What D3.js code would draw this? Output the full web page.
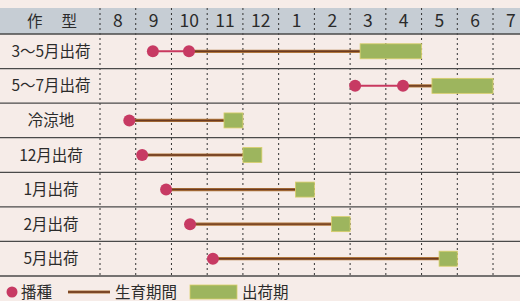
<!DOCTYPE html>
<html>
<head>
<meta charset="utf-8">
<script src="https://cdn.jsdelivr.net/npm/d3@7"></script>
<style>
  body { margin: 0; background: #f6ece8; }
  svg { display: block; }
  text { font-family: "Noto Sans CJK JP", "Noto Sans", sans-serif; fill: #2b2b2b; }
</style>
</head>
<body>
<script>
// 作型ごとの栽培暦 (8月 = 0 として月単位)
var months = ['8', '9', '10', '11', '12', '1', '2', '3', '4', '5', '6', '7'];
var types = ['3〜5月出荷', '5〜7月出荷', '冷涼地', '12月出荷', '1月出荷', '2月出荷', '5月出荷'];
var sowFirst  = [1.48, 7.14, 0.82, 1.18, 1.85, 2.52, 3.16];
var sowLast   = [2.49, 8.48, null, null, null, null, null];
var harvStart = [7.28, 9.29, 3.47, 4.0, 5.47, 6.48, 9.49];
var harvEnd   = [9.0, 11.0, 4.0, 4.53, 6.0, 7.0, 10.0];

var W = 520, H = 301;
var svg = d3.select('body').append('svg').attr('width', W).attr('height', H);

var x = d3.scaleLinear().domain([0, 12]).range([100, 100 + 12 * 35.73]);
var y = d3.scaleBand().domain(types).range([34, 276]);
var headTop = 8;

// header
svg.append('rect').attr('x', 0).attr('y', headTop).attr('width', W).attr('height', 34 - headTop).attr('fill', '#c6cdd4');
svg.append('text').attr('x', 52).attr('y', 21).attr('dy', '0.36em').attr('text-anchor', 'middle')
  .attr('font-size', 15.5).text('作　 型');
svg.selectAll('.mon').data(months).enter().append('text')
  .attr('x', function(d, i) { return x(i + 0.5); })
  .attr('y', 21).attr('dy', '0.36em').attr('text-anchor', 'middle')
  .attr('font-family', 'DejaVu Sans, sans-serif').attr('font-size', 17.5).attr('fill', '#333')
  .text(function(d) { return d; });

// grid
svg.selectAll('.vl').data(d3.range(0, 12)).enter().append('line')
  .attr('x1', function(d) { return x(d); }).attr('x2', function(d) { return x(d); })
  .attr('y1', headTop).attr('y2', 278)
  .attr('stroke', '#333').attr('stroke-width', 1).attr('stroke-dasharray', '2,3');
var hl = [34].concat(types.map(function(t) { return y(t) + y.bandwidth(); }));
svg.selectAll('.hl').data(hl).enter().append('line')
  .attr('x1', 0).attr('x2', W)
  .attr('y1', function(d) { return d; }).attr('y2', function(d) { return d; })
  .attr('stroke', '#4a4a4a').attr('stroke-width', 1.3);

// rows
types.forEach(function(t, i) {
  var cy = y(t) + y.bandwidth() / 2;
  svg.append('text').attr('x', 51).attr('y', cy).attr('dy', '0.36em').attr('text-anchor', 'middle')
    .attr('font-size', 15.5).text(t);

  var growFrom = sowLast[i] != null ? sowLast[i] : sowFirst[i];
  svg.append('line').attr('x1', x(growFrom)).attr('x2', x(harvStart[i]))
    .attr('y1', cy).attr('y2', cy).attr('stroke', '#b0763a').attr('stroke-width', 3.2);
  svg.append('line').attr('x1', x(growFrom)).attr('x2', x(harvStart[i]))
    .attr('y1', cy).attr('y2', cy).attr('stroke', '#6b3a22').attr('stroke-width', 1.4);

  if (sowLast[i] != null) {
    svg.append('line').attr('x1', x(sowFirst[i])).attr('x2', x(sowLast[i]))
      .attr('y1', cy).attr('y2', cy).attr('stroke', '#c8385f').attr('stroke-width', 2);
    svg.append('circle').attr('cx', x(sowLast[i])).attr('cy', cy).attr('r', 6).attr('fill', '#c73a63');
  }
  svg.append('circle').attr('cx', x(sowFirst[i])).attr('cy', cy).attr('r', 6).attr('fill', '#c73a63');

  svg.append('rect').attr('x', x(harvStart[i])).attr('y', cy - 7.5)
    .attr('width', x(harvEnd[i]) - x(harvStart[i])).attr('height', 15)
    .attr('fill', '#9db55e').attr('stroke', '#d9cf6a').attr('stroke-width', 0.8);
});

// legend
var ly = 292;
svg.append('circle').attr('cx', 12).attr('cy', ly).attr('r', 5.5).attr('fill', '#c73a63');
svg.append('text').attr('x', 21).attr('y', ly).attr('dy', '0.36em').attr('font-size', 15.5).text('播種');
svg.append('line').attr('x1', 68).attr('x2', 110).attr('y1', ly).attr('y2', ly)
  .attr('stroke', '#b0763a').attr('stroke-width', 3.2);
svg.append('line').attr('x1', 68).attr('x2', 110).attr('y1', ly).attr('y2', ly)
  .attr('stroke', '#6b3a22').attr('stroke-width', 1.4);
svg.append('text').attr('x', 115).attr('y', ly).attr('dy', '0.36em').attr('font-size', 15.5).text('生育期間');
svg.append('rect').attr('x', 190).attr('y', ly - 7).attr('width', 47).attr('height', 14)
  .attr('fill', '#9db55e').attr('stroke', '#d9cf6a').attr('stroke-width', 0.8);
svg.append('text').attr('x', 242).attr('y', ly).attr('dy', '0.36em').attr('font-size', 15.5).text('出荷期');
</script>
</body>
</html>
